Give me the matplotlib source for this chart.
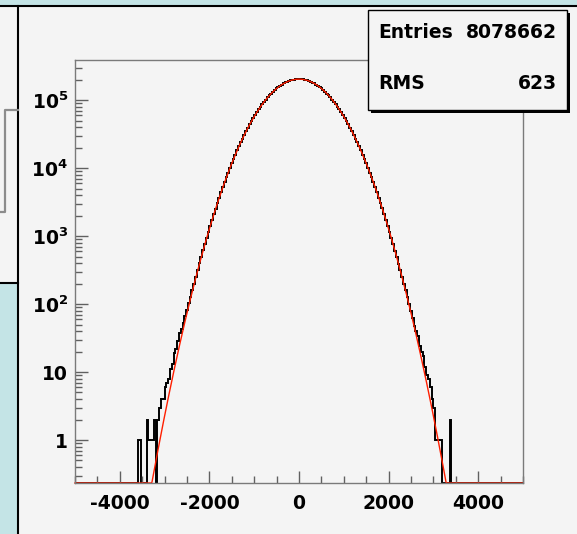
import matplotlib
matplotlib.use('Agg')
import matplotlib.pyplot as plt
from matplotlib.patches import Rectangle
from matplotlib.lines import Line2D
from matplotlib.ticker import MultipleLocator, LogLocator, NullFormatter
import numpy as np

plt.rcParams['font.family'] = ['DejaVu Sans']
plt.rcParams['font.weight'] = 'bold'
plt.rcParams['axes.unicode_minus'] = False

# ─── data ─────────────────────────────────────────────────────────────────────

x_lo, x_hi, n_bins = -5000, 5000, 250       # histogram binning (width 40)
first_bin = 35                              # first filled bin: [-3600, -3560)

# bin contents from -3600 upward
counts = [
    1, 1, 0, 0, 0, 2, 1, 1, 1, 2, 0, 2, 3, 4, 4, 6, 7, 8, 11, 13,
    19, 22, 29, 37, 43, 52, 66, 82, 105, 128, 160, 200, 252, 318, 396, 497,
    618, 765, 944, 1160, 1420, 1731, 2103, 2544, 3064, 3678, 4397, 5233,
    6205, 7327, 8618, 10095, 11774, 13685, 15826, 18246, 20946, 23946,
    27256, 30916, 34916, 39276, 43996, 49096, 54556, 60386, 66556, 73066,
    79876, 86986, 94336, 101896, 109616, 117436, 125316, 133176, 140966,
    148596, 155996, 163126, 169876, 176196, 182006, 187256, 191866, 195796,
    198996, 201436, 203076, 203906,
    203842, 203011, 201502, 198930, 195861, 191790, 187318, 181942, 176251,
    169803, 163187, 155925, 148654, 140903, 133231, 125249, 117490, 109558,
    101947, 94281, 87034, 79822, 73112, 66503, 60421, 54512, 49127, 43958,
    39301, 34882, 30937, 27231, 23962, 20925, 18259, 15807, 13697, 11760,
    10104, 8605, 7331, 6192, 5241, 4385, 3682, 3051, 2548, 2094, 1735, 1411,
    1162, 937, 768, 611, 497, 391, 316, 252, 200, 160, 128, 100, 80, 62, 48,
    40, 34, 24, 20, 17, 12, 9, 8, 6, 4, 3, 1, 1, 1, 1, 0, 0, 0, 0, 2,
]

# gaussian fit parameters
fit_const, fit_mean, fit_sigma = 2.04e5, 0.0, 628.0

entries_text = '8078662'
rms_text = '623'

x_ticks = [-4000, -2000, 0, 2000, 4000]
y_ticks = [1, 10, 1e2, 1e3, 1e4, 1e5]
y_labels = ['1', '10', r'$\mathbf{10^{2}}$', r'$\mathbf{10^{3}}$',
            r'$\mathbf{10^{4}}$', r'$\mathbf{10^{5}}$']
y_min, y_max = 0.233, 3.9e5

# ─── canvas ───────────────────────────────────────────────────────────────────

W, H = 577, 534
CYAN = '#c4e4e6'
PAD = '#f4f4f4'

def fx(x):
    return x / W

def fy(y):
    return 1 - y / H

fig = plt.figure(figsize=(W / 100, H / 100), dpi=100, facecolor=CYAN)

# pads (behind the frame)
fig.add_artist(Rectangle((fx(0), fy(283)), fx(18), fy(6) - fy(283), zorder=-3,
                         transform=fig.transFigure, facecolor=PAD, edgecolor='none'))
fig.add_artist(Rectangle((fx(18), fy(534)), fx(577 - 18), fy(6) - fy(534), zorder=-3,
                         transform=fig.transFigure, facecolor=PAD, edgecolor='none'))
for xs, ys in [([0, 577], [6, 6]), ([18, 18], [6, 534]), ([0, 18], [283, 283])]:
    fig.add_artist(Line2D([fx(v) for v in xs], [fy(v) for v in ys], zorder=-2,
                          transform=fig.transFigure, color='black', lw=1.5))
# piece of the neighbouring pad's histogram
fig.add_artist(Line2D([fx(18), fx(5), fx(5), fx(0)], [fy(110), fy(110), fy(212), fy(212)],
                      transform=fig.transFigure, color='#8c8c8c', lw=1.6, zorder=-2))

# ─── histogram frame ─────────────────────────────────────────────────────────

ax = fig.add_axes([fx(75), fy(483), fx(523 - 75), fy(60) - fy(483)])
ax.set_facecolor(PAD)

vals = np.zeros(n_bins)
vals[first_bin:first_bin + len(counts)] = counts
edges = np.linspace(x_lo, x_hi, n_bins + 1)
ax.stairs(np.maximum(vals, y_min), edges, baseline=None, color='black', lw=1.4, clip_on=False)

xf = np.linspace(x_lo, x_hi, 1001)
yf = fit_const * np.exp(-0.5 * ((xf - fit_mean) / fit_sigma) ** 2)
ax.plot(xf, np.maximum(yf, y_min), color='#ff1e00', lw=1.0, clip_on=False)

ax.set_yscale('log')
ax.set_xlim(x_lo, x_hi)
ax.set_ylim(y_min, y_max)

ax.set_xticks(x_ticks)
ax.set_xticklabels([str(v) for v in x_ticks])
ax.xaxis.set_minor_locator(MultipleLocator(500))
ax.set_yticks(y_ticks)
ax.set_yticklabels(y_labels)
ax.yaxis.set_minor_locator(LogLocator(base=10, subs=np.arange(2, 10), numticks=20))
ax.yaxis.set_minor_formatter(NullFormatter())

ax.tick_params(which='both', direction='in', color='#606060', width=1,
               labelsize=13.5, top=False, right=False)
ax.tick_params(which='major', length=9)
ax.tick_params(which='minor', length=4.7)
ax.tick_params(axis='x', pad=8)
ax.tick_params(axis='y', pad=5)
for s in ax.spines.values():
    s.set_color('#7a7a7a')
    s.set_linewidth(1)

# ─── stats box ───────────────────────────────────────────────────────────────

fig.add_artist(Rectangle((fx(371), fy(113)), fx(199), fy(13) - fy(113),
                         transform=fig.transFigure, facecolor='black', edgecolor='none', zorder=5))
fig.add_artist(Rectangle((fx(368), fy(110)), fx(199), fy(10) - fy(110),
                         transform=fig.transFigure, facecolor=PAD, edgecolor='black',
                         lw=1, zorder=6))
fig.text(fx(378), fy(33), 'Entries', fontsize=13.5, va='center', ha='left', zorder=7)
fig.text(fx(557), fy(33), entries_text, fontsize=13.5, va='center', ha='right', zorder=7)
fig.text(fx(378), fy(84), 'RMS', fontsize=13.5, va='center', ha='left', zorder=7)
fig.text(fx(557), fy(84), rms_text, fontsize=13.5, va='center', ha='right', zorder=7)

plt.savefig('out.png', dpi=100, facecolor=CYAN)
plt.close()
print('out.png saved')
